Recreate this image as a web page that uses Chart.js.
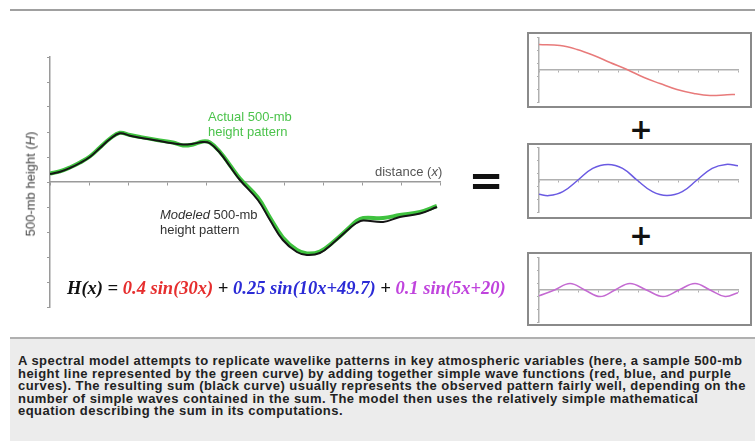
<!DOCTYPE html>
<html>
<head>
<meta charset="utf-8">
<script src="https://cdn.jsdelivr.net/npm/chart.js@4.4.0/dist/chart.umd.min.js"></script>
<style>
  body { margin: 0; background: #fff; width: 755px; height: 441px; overflow: hidden; position: relative; font-family: "Liberation Sans", Arial, sans-serif; }
  .abs { position: absolute; }
  .topLine { left: 10px; top: 9px; width: 745px; height: 2px; background: #a0a0a0; }
  .panel { left: 527px; width: 225px; box-sizing: border-box; border: 2px solid #8a8a8a; background: #fff; }
  .lbl { font-size: 13px; line-height: 14.5px; white-space: nowrap; }
  .sym { font-family: "DejaVu Sans", sans-serif; font-weight: bold; color: #111; line-height: 1; transform: translate(-50%, -50%); }
  .eq { left: 67px; top: 278px; font-family: "Liberation Serif", "Times New Roman", serif; font-weight: bold; font-style: italic; font-size: 18.5px; white-space: nowrap; color: #111; }
  .caption { left: 10px; top: 337px; width: 745px; height: 110px; background: #ececec; border-top: 2px solid #b0b0b0; box-sizing: border-box;
             padding: 16px 0 0 8px; font-size: 13px; letter-spacing: 0.45px; font-weight: bold; line-height: 12.6px; color: #222; white-space: nowrap; }
</style>
</head>
<body>
<div class="abs topLine"></div>

<canvas id="mainChart" class="abs" style="left:0;top:0" width="520" height="320"></canvas>

<div class="abs lbl" style="left:31px;top:184px;color:#444;transform:translate(-50%,-50%) rotate(-90deg);">500-mb height (<i>H</i>)</div>
<div class="abs lbl" style="left:208px;top:110px;color:#4cc34c;">Actual 500-mb<br>height pattern</div>
<div class="abs lbl" style="left:375px;top:165px;color:#555;">distance (<i>x</i>)</div>
<div class="abs lbl" style="left:160px;top:208px;color:#333;"><i>Modeled</i> 500-mb<br>height pattern</div>

<div class="abs sym" style="left:486px;top:181px;font-size:42px;">=</div>
<div class="abs sym" style="left:641px;top:130px;font-size:28px;">+</div>
<div class="abs sym" style="left:641px;top:236px;font-size:28px;">+</div>

<div class="abs eq">H(x) = <span style="color:#e62e2e">0.4 sin(30x)</span> + <span style="color:#2b2bd6">0.25 sin(10x+49.7)</span> + <span style="color:#c044dd">0.1 sin(5x+20)</span></div>

<div class="abs panel" style="top:32px;height:76px;"></div>
<div class="abs panel" style="top:143px;height:76px;"></div>
<div class="abs panel" style="top:252px;height:74px;"></div>
<canvas id="redChart" class="abs" style="left:527px;top:32px" width="225" height="76"></canvas>
<canvas id="blueChart" class="abs" style="left:527px;top:143px" width="225" height="76"></canvas>
<canvas id="purpleChart" class="abs" style="left:527px;top:252px" width="225" height="74"></canvas>

<div class="abs caption">A spectral model attempts to replicate wavelike patterns in key atmospheric variables (here, a sample 500-mb<br>height line represented by the green curve) by adding together simple wave functions (red, blue, and purple<br>curves). The resulting sum (black curve) usually represents the observed pattern fairly well, depending on the<br>number of simple waves contained in the sum. The model then uses the relatively simple mathematical<br>equation describing the sum in its computations.</div>

<script>
// main chart: distance and height in tick units
const mainX = [0, 0.26, 0.51, 0.77, 1.03, 1.28, 1.54, 1.79, 2.05, 2.31, 2.74, 3.15, 3.41, 3.67, 3.92, 4.10, 4.36, 4.62, 4.87, 5.33, 5.64, 5.97, 6.33, 6.59, 6.92, 7.26, 7.69, 7.86, 8.03, 8.54, 8.97, 9.49, 9.92];
const modeled = [0.32, 0.41, 0.56, 0.76, 1.01, 1.36, 1.72, 1.95, 1.85, 1.77, 1.66, 1.55, 1.5, 1.53, 1.6, 1.55, 1.16, 0.61, 0.08, -0.72, -1.52, -2.32, -2.8, -2.92, -2.84, -2.44, -1.84, -1.64, -1.54, -1.6, -1.4, -1.26, -1.0];
const actual = [0.34, 0.43, 0.58, 0.78, 1.03, 1.38, 1.74, 1.97, 1.88, 1.8, 1.68, 1.58, 1.46, 1.5, 1.62, 1.58, 1.2, 0.66, 0.14, -0.62, -1.42, -2.22, -2.72, -2.86, -2.78, -2.4, -1.8, -1.56, -1.44, -1.44, -1.32, -1.2, -0.96];

// component waves (small panels)
const redX = [0, 1.06, 1.91, 2.76, 3.57, 4.42, 5.28, 6.08, 6.93, 7.79, 8.59, 9.45, 9.85];
const redY = [1.96, 1.88, 1.58, 1.12, 0.58, 0.04, -0.58, -1.04, -1.5, -1.8, -1.96, -1.9, -1.88];
const blueX = [0, 0.5, 1.2, 1.96, 2.7, 3.47, 4.2, 4.92, 5.7, 6.43, 7.2, 7.94, 8.7, 9.4, 10];
const blueY = [-1.1, -1.2, -0.9, 0, 0.9, 1.2, 0.9, 0, -0.9, -1.2, -0.9, 0, 0.9, 1.2, 1.1];
const purpleX = [0, 0.78, 1.56, 2.3, 3.07, 3.82, 4.57, 5.4, 6.23, 7.03, 7.84, 8.6, 9.35, 10];
const purpleY = [-0.45, 0, 0.5, 0, -0.5, 0, 0.5, 0, -0.5, 0, 0.5, 0, -0.5, -0.2];

function pts(xs, ys) {
    return xs.map((x, i) => ({ x: x, y: ys[i] }));
}

function axes(yMin, yMax, axisColor, tick) {
    return {
        x: {
            type: "linear", min: 0, max: 10, position: { y: 0 },
            ticks: { display: false, stepSize: 1 },
            grid: { drawOnChartArea: false, drawTicks: true, tickLength: tick, color: axisColor },
            border: { display: true, color: axisColor, width: 1.5 }
        },
        y: {
            type: "linear", min: yMin, max: yMax,
            ticks: { display: false, stepSize: 1 },
            grid: { drawOnChartArea: false, drawTicks: true, tickLength: tick, color: axisColor },
            border: { display: true, color: axisColor, width: 1.5 },
            afterFit: (scale) => { scale.width = 0; }
        }
    };
}

const baseOpts = {
    responsive: false,
    animation: false,
    devicePixelRatio: 1,
    plugins: { legend: { display: false }, tooltip: { enabled: false } },
    elements: { point: { radius: 0 }, line: { tension: 0.4 } }
};

new Chart(document.getElementById("mainChart").getContext("2d"), {
    type: "line",
    data: {
        datasets: [
            { label: "Modeled", data: pts(mainX, modeled), borderColor: "#151515", borderWidth: 2 },
            { label: "Actual", data: pts(mainX, actual), borderColor: "#3fc23f", borderWidth: 4 }
        ]
    },
    options: Object.assign({}, baseOpts, {
        layout: { padding: { left: 50, right: 80, top: 57, bottom: 13 } },
        scales: axes(-5, 5, "#9a9a9a", 3)
    })
});

function smallChart(id, xs, ys, color, padTop, padBottom) {
    new Chart(document.getElementById(id).getContext("2d"), {
        type: "line",
        data: { datasets: [{ data: pts(xs, ys), borderColor: color, borderWidth: 1.5 }] },
        options: Object.assign({}, baseOpts, {
            layout: { padding: { left: 12, right: 14, top: padTop, bottom: padBottom } },
            scales: axes(-2.5, 2.5, "#b0b0b0", 2)
        })
    });
}

smallChart("redChart", redX, redY, "#e87a7a", 5.5, 5.5);
smallChart("blueChart", blueX, blueY, "#6a5ae2", 4.5, 6.5);
smallChart("purpleChart", purpleX, purpleY, "#c46ad2", 5.5, 3.5);
</script>
</body>
</html>
